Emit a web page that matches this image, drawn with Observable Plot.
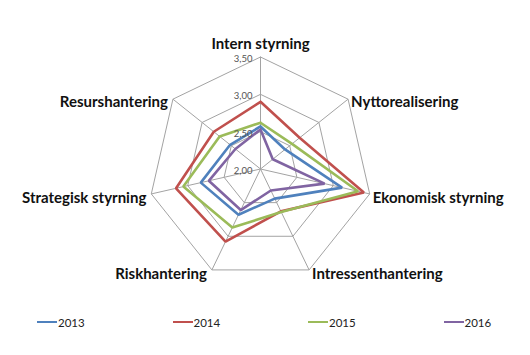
<!DOCTYPE html>
<html><head><meta charset="utf-8">
<script src="https://cdn.jsdelivr.net/npm/d3@7"></script>
<script src="https://cdn.jsdelivr.net/npm/@observablehq/plot@0.6"></script>
<style>
body{margin:0;background:#fff;font-family:Lato,"Open Sans",sans-serif;}
#chart{position:relative;width:530px;height:355px;overflow:hidden;}
#chart svg{position:absolute;left:0;top:0;}
.legend{position:absolute;left:0;top:312px;width:530px;height:20px;font-size:11.5px;color:#222;}
.item{position:absolute;top:0;height:20px;display:flex;align-items:center;}
.swatch{width:20px;height:2.5px;margin-right:1px;}
</style></head><body><div id="chart"></div>
<script>
const categories = ["Intern styrning","Nyttorealisering","Ekonomisk styrning","Intressenthantering","Riskhantering","Strategisk styrning","Resurshantering"];
const years = ["2013","2014","2015","2016"];
const values2013 = [2.57, 2.42, 3.12, 2.44, 2.68, 2.82, 2.52];
const values2014 = [2.90, 2.67, 3.42, 2.63, 3.08, 3.16, 2.80];
const values2015 = [2.62, 2.54, 3.34, 2.64, 2.87, 3.06, 2.70];
const values2016 = [2.53, 2.21, 2.88, 2.32, 2.61, 2.71, 2.43];
const tickValues = [2.0, 2.5, 3.0, 3.5];
const tickLabels = ["2,00", "2,50", "3,00", "3,50"];
const colors = ["#4F81BD", "#C0504D", "#9BBB59", "#8064A2"];

const series = [values2013, values2014, values2015, values2016];
const base = tickValues[0];
const maxV = tickValues[tickValues.length - 1];
const n = categories.length;
const ang = i => 2 * Math.PI * i / n;
const px = (i, v) => (v - base) * Math.sin(ang(i));
const py = (i, v) => (v - base) * Math.cos(ang(i));

const rings = [];
tickValues.filter(t => t > base).forEach(t => {
  for (let i = 0; i <= n; i++) rings.push({ring: t, x: px(i % n, t), y: py(i % n, t)});
});
const spokes = categories.map((c, i) => ({x1: 0, y1: 0, x2: px(i, maxV), y2: py(i, maxV)}));
const lines = [];
years.forEach((yr, k) => {
  for (let i = 0; i <= n; i++) lines.push({year: yr, x: px(i % n, series[k][i % n]), y: py(i % n, series[k][i % n])});
});
const ticks = tickValues.map((t, k) => ({x: 0, y: t - base, label: tickLabels[k]}));
const cats = categories.map((c, i) => {
  const s = Math.sin(ang(i)), co = Math.cos(ang(i));
  const anchor = s > 0.1 ? "start" : s < -0.1 ? "end" : "middle";
  return {name: c, x: px(i, maxV), y: py(i, maxV), anchor,
          dx: s > 0.1 ? 3 : s < -0.1 ? -5 : 0,
          dy: co > 0.99 ? -15 : co > 0 ? 1 : 2};
});

const R = 112, cx = 260, cy = 168.5, span = maxV - base;
const plot = Plot.plot({
  width: 530, height: 300, margin: 0,
  style: {fontFamily: "Lato, 'Open Sans', sans-serif", background: "transparent", overflow: "visible"},
  x: {domain: [-span, span], range: [cx - R, cx + R], axis: null},
  y: {domain: [-span, span], range: [cy + R, cy - R], axis: null},
  color: {domain: years, range: colors},
  marks: [
    Plot.line(rings, {x: "x", y: "y", z: "ring", stroke: "#a3a3a3", strokeWidth: 1, curve: "linear"}),
    Plot.link(spokes, {x1: "x1", y1: "y1", x2: "x2", y2: "y2", stroke: "#a3a3a3", strokeWidth: 1}),
    Plot.line(lines, {x: "x", y: "y", z: "year", stroke: "year", strokeWidth: 2.6, strokeLinejoin: "miter", curve: "linear"}),
    Plot.text(ticks, {x: "x", y: "y", text: "label", textAnchor: "end", dx: -8, dy: 2, fontSize: 9.5, fill: "#555"}),
    ...["start", "end", "middle"].map(a =>
      Plot.text(cats.filter(d => d.anchor === a), {x: "x", y: "y", text: "name", textAnchor: a,
        fontSize: 15, fontWeight: "bold", fill: "#111"}))
  ]
});
document.getElementById("chart").appendChild(plot);

// per-label offsets
d3.select(plot).selectAll("text").filter(function(){ return categories.includes(this.textContent); })
  .each(function(){
    const d = cats.find(c => c.name === this.textContent);
    d3.select(this).attr("dx", d.dx).attr("dy", d.dy + 2);
  });

const legend = document.createElement("div");
legend.className = "legend";
years.forEach((yr, k) => {
  const it = document.createElement("div");
  it.className = "item";
  it.style.left = (37 + k * 135.5) + "px";
  it.innerHTML = `<span class="swatch" style="background:${colors[k]}"></span><span>${yr}</span>`;
  legend.appendChild(it);
});
document.getElementById("chart").appendChild(legend);
</script></body></html>
